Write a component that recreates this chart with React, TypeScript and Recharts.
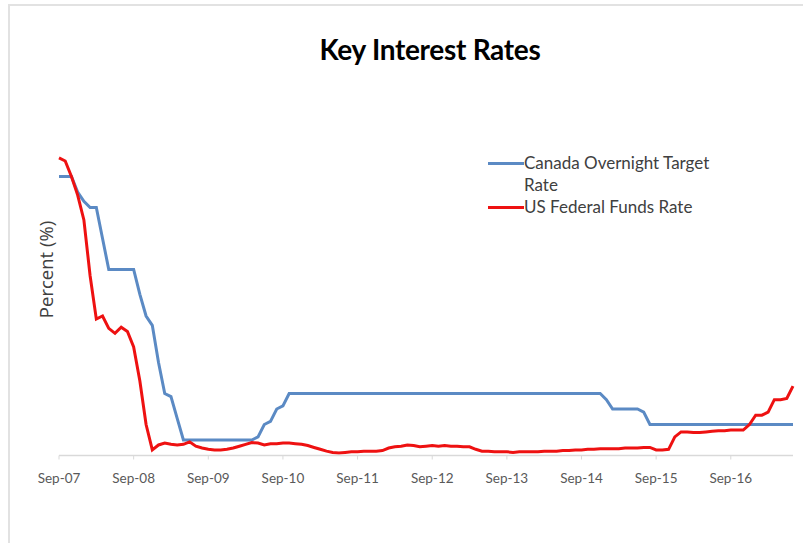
import { Label, Legend, Line, LineChart, XAxis, YAxis } from 'recharts'

const startYear = 2007
const startMonth = 8 // September, zero based
const monthNames = ['Jan', 'Feb', 'Mar', 'Apr', 'May', 'Jun', 'Jul', 'Aug', 'Sep', 'Oct', 'Nov', 'Dec']

// Canada overnight target rate, monthly, Sep-07 .. Jul-17
const canadaRate = [
  4.5, 4.5, 4.5, 4.25, 4.1, 4.0, 4.0, 3.5, 3.0, 3.0, 3.0, 3.0,
  3.0, 2.6, 2.25, 2.1, 1.5, 1.0, 0.95, 0.6, 0.25, 0.25, 0.25, 0.25,
  0.25, 0.25, 0.25, 0.25, 0.25, 0.25, 0.25, 0.25, 0.3, 0.5, 0.55, 0.75,
  0.8, 1.0, 1.0, 1.0, 1.0, 1.0, 1.0, 1.0, 1.0, 1.0, 1.0, 1.0,
  1.0, 1.0, 1.0, 1.0, 1.0, 1.0, 1.0, 1.0, 1.0, 1.0, 1.0, 1.0,
  1.0, 1.0, 1.0, 1.0, 1.0, 1.0, 1.0, 1.0, 1.0, 1.0, 1.0, 1.0,
  1.0, 1.0, 1.0, 1.0, 1.0, 1.0, 1.0, 1.0, 1.0, 1.0, 1.0, 1.0,
  1.0, 1.0, 1.0, 1.0, 0.9, 0.75, 0.75, 0.75, 0.75, 0.75, 0.7, 0.5,
  0.5, 0.5, 0.5, 0.5, 0.5, 0.5, 0.5, 0.5, 0.5, 0.5, 0.5, 0.5,
  0.5, 0.5, 0.5, 0.5, 0.5, 0.5, 0.5, 0.5, 0.5, 0.5, 0.5,
]

// US effective federal funds rate, monthly, Sep-07 .. Jul-17
const usRate = [
  4.8, 4.75, 4.5, 4.2, 3.8, 2.9, 2.2, 2.25, 2.05, 1.97, 2.07, 2.0,
  1.75, 1.2, 0.5, 0.09, 0.17, 0.2, 0.18, 0.17, 0.18, 0.22, 0.15, 0.12,
  0.1, 0.09, 0.09, 0.1, 0.12, 0.15, 0.18, 0.21, 0.2, 0.17, 0.19, 0.19,
  0.2, 0.2, 0.19, 0.18, 0.16, 0.13, 0.1, 0.07, 0.05, 0.04, 0.05, 0.06,
  0.06, 0.07, 0.07, 0.07, 0.08, 0.12, 0.14, 0.15, 0.17, 0.16, 0.14, 0.15,
  0.16, 0.15, 0.16, 0.15, 0.15, 0.14, 0.14, 0.1, 0.07, 0.07, 0.06, 0.06,
  0.06, 0.05, 0.06, 0.06, 0.06, 0.06, 0.07, 0.07, 0.07, 0.08, 0.08, 0.09,
  0.09, 0.1, 0.1, 0.11, 0.11, 0.11, 0.11, 0.12, 0.12, 0.12, 0.13, 0.13,
  0.09, 0.09, 0.1, 0.3, 0.38, 0.38, 0.37, 0.37, 0.38, 0.39, 0.4, 0.4,
  0.41, 0.41, 0.41, 0.5, 0.65, 0.65, 0.7, 0.9, 0.9, 0.92, 1.12, 1.15,
]

const series = [
  { key: 'canada', name: 'Canada Overnight Target Rate', color: '#5b8ac4' },
  { key: 'us', name: 'US Federal Funds Rate', color: '#ee1111' },
]

const monthLabel = (i: number) => {
  const m = (startMonth + i) % 12
  const y = startYear + Math.floor((startMonth + i) / 12)
  return `${monthNames[m]}-${String(y % 100).padStart(2, '0')}`
}

const data = canadaRate.map((canada, i) => ({
  month: monthLabel(i),
  canada,
  us: usRate[i],
}))

const font = 'Lato, "Open Sans", sans-serif'

function LegendBox() {
  return (
    <div style={{ fontFamily: font, fontSize: 17, color: '#404040', lineHeight: '22px' }}>
      {series.map((s) => (
        <div key={s.key} style={{ display: 'flex', alignItems: 'flex-start' }}>
          <span
            style={{
              display: 'inline-block',
              width: 36,
              height: 3,
              marginTop: 10,
              background: s.color,
              flexShrink: 0,
            }}
          />
          <span style={{ width: 205 }}>{s.name}</span>
        </div>
      ))}
    </div>
  )
}

function YLabel(props: any) {
  const vb = props.viewBox || { x: 19, y: 83.5, width: 40, height: 372 }
  const cx = vb.x + 26
  const cy = vb.y + vb.height / 2
  return (
    <text
      x={cx}
      y={cy}
      transform={`rotate(-90 ${cx} ${cy})`}
      textAnchor="middle"
      dominantBaseline="central"
      fill="#404040"
      fontSize={18.5}
      fontFamily='"Open Sans", sans-serif'
    >
      Percent (%)
    </text>
  )
}

export default function App() {
  return (
    <div style={{ position: 'absolute', left: 0, top: 0, width: 803, height: 543, background: '#fff' }}>
      <div
        style={{
          position: 'absolute',
          left: 8,
          top: 4,
          right: 0,
          bottom: 0,
          borderTop: '2px solid #e2e2e2',
          borderLeft: '2px solid #e2e2e2',
        }}
      />
      <div
        style={{
          position: 'absolute',
          left: 0,
          width: 860,
          top: 32,
          textAlign: 'center',
          fontFamily: font,
          fontWeight: 700,
          fontSize: 28,
          letterSpacing: -0.3,
          color: '#000',
        }}
      >
        Key Interest Rates
      </div>
      <LineChart
        width={803}
        height={543}
        data={data}
        margin={{ top: 83.5, right: 10, bottom: 57.5, left: 19 }}
      >
        <XAxis
          dataKey="month"
          scale="point"
          interval={11}
          axisLine={{ stroke: '#d9d9d9', strokeWidth: 1.5 }}
          tickLine={{ stroke: '#d9d9d9' }}
          tickSize={4}
          tickMargin={14}
          height={30}
          tick={{ fill: '#595959', fontSize: 13.5, fontFamily: font }}
        />
        <YAxis domain={[0, 6]} width={40} tick={false} axisLine={false} tickLine={false}>
          <Label content={YLabel} />
        </YAxis>
        <Legend
          layout="vertical"
          align="center"
          verticalAlign="middle"
          content={<LegendBox />}
          wrapperStyle={{ left: 488, top: 152, width: 250 }}
        />
        {series.map((s) => (
          <Line
            key={s.key}
            type="linear"
            dataKey={s.key}
            name={s.name}
            stroke={s.color}
            strokeWidth={3}
            dot={false}
            isAnimationActive={false}
          />
        ))}
      </LineChart>
    </div>
  )
}
